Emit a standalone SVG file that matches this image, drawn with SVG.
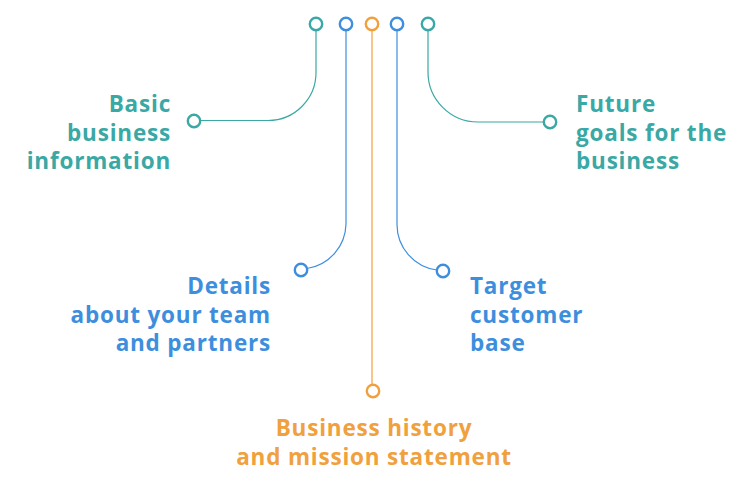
<svg xmlns="http://www.w3.org/2000/svg" width="750" height="495" viewBox="0 0 750 495">
<style>
text{font-family:"Open Sans","Liberation Sans",sans-serif;font-weight:700;font-size:22.5px;letter-spacing:0.8px}
.t{fill:#3aa8a4}.b{fill:#3e8ede}.o{fill:#f0a03c}
.dot{fill:#fff;stroke-width:2.4}
.ct{stroke:#3aa8a4}.cb{stroke:#3e8ede}.co{stroke:#f0a03c}
.ln{fill:none;stroke-width:1.2}
</style>
<rect width="750" height="495" fill="#fff"/>
<g id="connectors">
<path class="ln ct" d="M316,30 V72 A48,48 0 0 1 268,120.5 H200"/>
<path class="ln ct" d="M428,30 V72 A50,50 0 0 0 478,122 H544"/>
<path class="ln cb" d="M346,30 V224 A46,46 0 0 1 307,268.5"/>
<path class="ln cb" d="M397,30 V224 A46,46 0 0 0 437,270"/>
<path class="ln co" d="M372,30 V385"/>
</g>
<g id="top-dots">
<circle class="dot ct" cx="316" cy="24" r="6.2"/>
<circle class="dot cb" cx="346" cy="24" r="6.2"/>
<circle class="dot co" cx="372" cy="24" r="6.2"/>
<circle class="dot cb" cx="397" cy="24" r="6.2"/>
<circle class="dot ct" cx="428" cy="24" r="6.2"/>
</g>
<g id="basic">
<circle class="dot ct" cx="194" cy="121" r="6.2"/>
<text class="t" text-anchor="end" x="171" y="112">Basic</text>
<text class="t" text-anchor="end" x="171" y="141">business</text>
<text class="t" text-anchor="end" x="171" y="169">information</text>
</g>
<g id="future">
<circle class="dot ct" cx="550" cy="122" r="6.2"/>
<text class="t" x="576" y="112">Future</text>
<text class="t" x="576" y="141">goals for the</text>
<text class="t" x="576" y="169">business</text>
</g>
<g id="details">
<circle class="dot cb" cx="301" cy="270" r="6.2"/>
<text class="b" text-anchor="end" x="271" y="294">Details</text>
<text class="b" text-anchor="end" x="271" y="323">about your team</text>
<text class="b" text-anchor="end" x="271" y="351">and partners</text>
</g>
<g id="target">
<circle class="dot cb" cx="443" cy="271" r="6.2"/>
<text class="b" x="470" y="294">Target</text>
<text class="b" x="470" y="323">customer</text>
<text class="b" x="470" y="351">base</text>
</g>
<g id="history">
<circle class="dot co" cx="373" cy="391" r="6.2"/>
<text class="o" text-anchor="middle" x="374" y="436">Business history</text>
<text class="o" text-anchor="middle" x="374" y="465">and mission statement</text>
</g>
</svg>
